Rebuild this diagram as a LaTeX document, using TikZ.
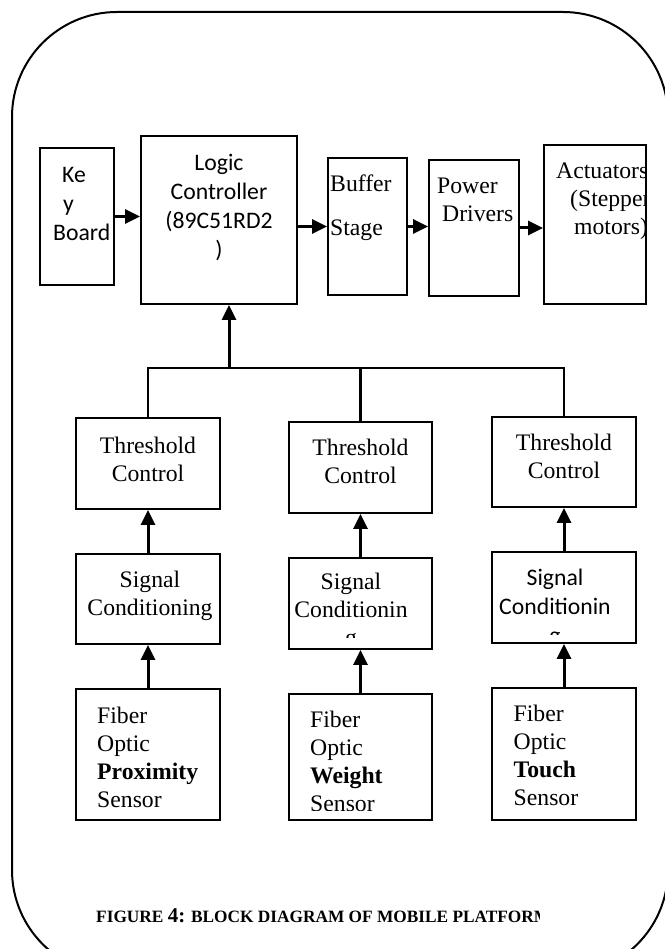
\documentclass[tikz,border=0pt]{standalone}
\usepackage{fontspec}
\setmainfont{Liberation Serif}
\newfontfamily\calibri{Carlito}
\usetikzlibrary{arrows.meta}

\begin{document}
\begin{tikzpicture}[x=1pt, y=-1pt,
    block/.style={draw, line width=1.8pt, inner sep=0pt},
    beschr/.style={inner sep=0pt, text width=220pt, align=left, anchor=base west, font=\fontsize{23.7}{28}\selectfont},
    beschrmitte/.style={beschr, align=center, anchor=base},
    calibritext/.style={font=\calibri\fontsize{23.7}{29}\selectfont},
    pfeil/.style={line width=3pt, -{Triangle[length=15pt, width=14pt]}},
    leitung/.style={line width=2.2pt}]

        % Feste Bildgröße
        \useasboundingbox (0, 0) rectangle (664, 949);

        % Zeichne den äußeren Rahmen
        \draw[line width=2pt, rounded corners=105pt] (12, 12) rectangle (668, 975);

        % Zeichne die obere Reihe
        \node[block, minimum width=74, minimum height=137] (keyboard) at (77, 216.5) {};
        \node[block, minimum width=156, minimum height=168] (logic) at (219, 220) {};
        \node[block, minimum width=79, minimum height=137] (buffer) at (367.5, 226.5) {};
        \node[block, minimum width=90, minimum height=136] (drivers) at (474, 228) {};
        \node[block, minimum width=102, minimum height=159] (actuators) at (595, 224.5) {};

        % Zeichne die Sensorzweige
        \node[block, minimum width=144, minimum height=91] (thr1) at (148, 463.5) {};
        \node[block, minimum width=143, minimum height=91] (thr2) at (360.5, 467.5) {};
        \node[block, minimum width=144, minimum height=90] (thr3) at (564, 462) {};
        \node[block, minimum width=144, minimum height=90] (sig1) at (148, 599) {};
        \node[block, minimum width=143, minimum height=91] (sig2) at (360.5, 603.5) {};
        \node[block, minimum width=144, minimum height=91] (sig3) at (564, 597.5) {};
        \node[block, minimum width=144, minimum height=131] (fib1) at (148, 754.5) {};
        \node[block, minimum width=143, minimum height=126] (fib2) at (360.5, 757) {};
        \node[block, minimum width=144, minimum height=132] (fib3) at (564, 754) {};

        % Beschriftung der oberen Reihe
        \node[beschr, calibritext] (keytext) at (53, 183) {\hspace*{9pt}Ke\\\hspace*{10pt}y\\Board};
        \node[beschrmitte, calibritext] (logictext) at (219, 171) {Logic\\Controller\\(89C51RD2\\)};
        \node[beschr] (buffertext) at (330, 192) {Buffer\\[16pt]Stage};
        \node[beschr] (driverstext) at (437, 194) {Power\\\hspace*{5pt}Drivers};
        \begin{scope}
            \clip (actuators.north west) rectangle (actuators.south east);
            \node[beschr] (acttext) at (556, 179) {Actuators\\\hspace*{14pt}(Stepper\\\hspace*{18pt}motors)};
        \end{scope}

        % Beschriftung der Schwellwertblöcke
        \node[beschrmitte] (thrtext1) at (148, 453) {Threshold\\Control};
        \node[beschrmitte] (thrtext2) at (360.5, 455) {Threshold\\Control};
        \node[beschrmitte] (thrtext3) at (564, 450) {Threshold\\Control};

        % Beschriftung der Signalaufbereitung
        \node[beschrmitte] (sigtext1) at (150, 587) {Signal\\Conditioning};
        \begin{scope}
            \clip (sig2.north west) rectangle ([yshift=12pt]sig2.south east);
            \node[beschrmitte] (sigtext2) at (351, 589) {Signal\\Conditionin\\g};
        \end{scope}
        \begin{scope}
            \clip (sig3.north west) rectangle ([yshift=9pt]sig3.south east);
            \node[beschrmitte, calibritext] (sigtext3) at (555, 585) {Signal\\Conditionin\\g};
        \end{scope}

        % Beschriftung der Sensoren
        \node[beschr] (fibtext1) at (97, 723) {Fiber\\Optic\\\textbf{Proximity}\\Sensor};
        \begin{scope}
            \clip (fib2.north west) rectangle ([yshift=10pt]fib2.south east);
            \node[beschr] (fibtext2) at (310, 727) {Fiber\\Optic\\\textbf{Weight}\\Sensor};
        \end{scope}
        \node[beschr] (fibtext3) at (513.5, 721) {Fiber\\Optic\\\textbf{Touch}\\Sensor};

        % Pfeile der oberen Reihe
        \draw[pfeil] (keyboard.east) -- (keyboard.east -| logic.west);
        \draw[pfeil] (logic.east |- buffer.west) -- (buffer.west);
        \draw[pfeil] (buffer.east) -- (buffer.east -| drivers.west);
        \draw[pfeil] (drivers.east) -- (drivers.east -| actuators.west);

        % Sammelleitung zum Controller
        \coordinate (bus) at (229, 368);
        \draw[pfeil] (bus) -- (bus |- logic.south);
        \draw[leitung] (thr1.north) |- (bus) -| (thr3.north);
        \draw[leitung] (thr2.north) -- (thr2.north |- bus);

        % Pfeile in den Sensorzweigen
        \draw[pfeil] (sig1.north) -- (thr1.south);
        \draw[pfeil] (sig2.north) -- (thr2.south);
        \draw[pfeil] (sig3.north) -- (thr3.south);
        \draw[pfeil] (fib1.north) -- (sig1.south);
        \draw[pfeil] (fib2.north) -- (sig2.south);
        \draw[pfeil] (fib3.north) -- (sig3.south);

        % Bildunterschrift
        \begin{scope}
            \clip (90, 895) rectangle (539, 935);
            \node[anchor=base west, inner sep=0pt, font=\bfseries\fontsize{17.3}{20}\selectfont] (caption) at (96, 922) {FIGURE {\fontsize{21}{24}\selectfont 4:} BLOCK DIAGRAM OF MOBILE PLATFORM};
        \end{scope}
    \end{tikzpicture}
\end{document}
